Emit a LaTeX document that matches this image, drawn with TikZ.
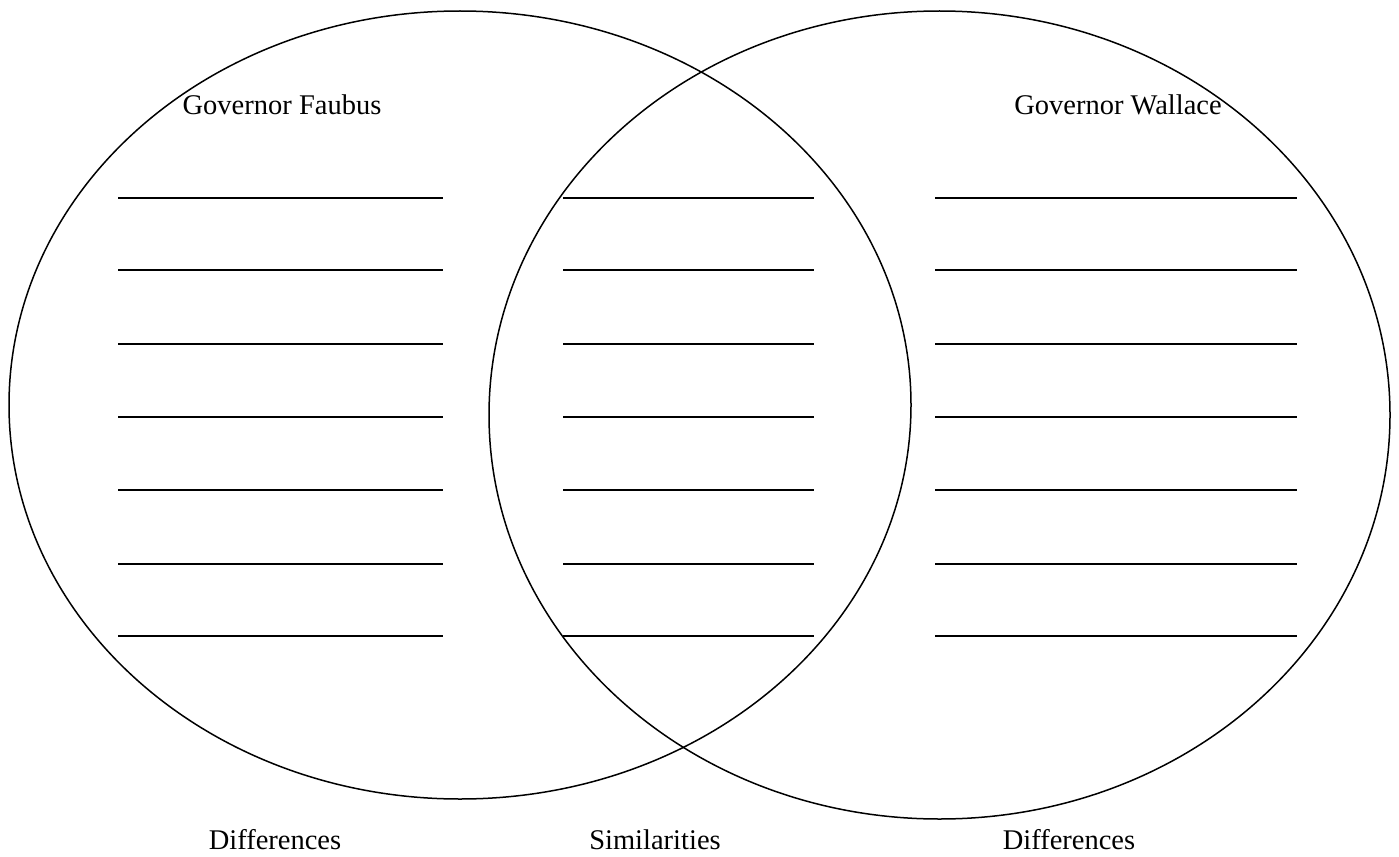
\documentclass[tikz,border=0pt]{standalone}
\usepackage{fontspec}
\setmainfont{Liberation Serif}
\begin{document}
\begin{tikzpicture}[x=1pt,y=-1pt,
  ring/.style={draw=black,line width=1.5pt},
  rule/.style={draw=black,line width=2pt},
  label/.style={font=\fontsize{28.5}{34}\selectfont,anchor=base,inner sep=0pt}]
\useasboundingbox (0,0) rectangle (1399,856);
% the two overlapping sets
\draw[ring] (460,405) ellipse [x radius=451,y radius=394];
\draw[ring] (939.5,415) ellipse [x radius=450.5,y radius=404];
% titles
\node[label] (tleft) at (282,115) {Governor Faubus};
\node[label] (tright) at (1118,115) {Governor Wallace};
% writing lines in each region
\foreach \y [count=\i] in {198,270,344,417,490,564,636}{
  \coordinate (la\i) at (118,\y); \coordinate (lb\i) at (443,\y);
  \coordinate (ma\i) at (563,\y); \coordinate (mb\i) at (814,\y);
  \coordinate (ra\i) at (935,\y); \coordinate (rb\i) at (1297,\y);
  \draw[rule] (la\i) -- (lb\i);
  \draw[rule] (ma\i) -- (mb\i);
  \draw[rule] (ra\i) -- (rb\i);
}
% captions under the diagram
\node[label] (cleft) at (275,849) {Differences};
\node[label] (cmid) at (655,849) {Similarities};
\node[label] (cright) at (1069,849) {Differences};
\end{tikzpicture}
\end{document}
